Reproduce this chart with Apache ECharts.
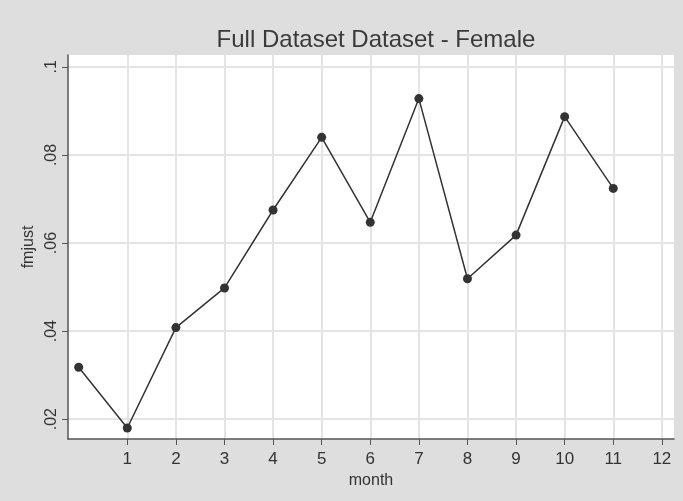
<!DOCTYPE html>
<html>
<head>
<meta charset="utf-8">
<script src="https://cdn.jsdelivr.net/npm/echarts@6/dist/echarts.min.js"></script>
<style>
  html, body { margin: 0; padding: 0; background: #dedede; }
  #main { width: 683px; height: 501px; }
</style>
</head>
<body>
<div id="main"></div>
<script>
var dom = document.getElementById("main");
var myChart = echarts.init(dom);

var months = [0, 1, 2, 3, 4, 5, 6, 7, 8, 9, 10, 11];
var fmjust = [0.0318, 0.0180, 0.0408, 0.0498, 0.0675, 0.0840, 0.0647, 0.0928, 0.0519, 0.0618, 0.0887, 0.0724];
var xTicks = [1, 2, 3, 4, 5, 6, 7, 8, 9, 10, 11, 12];
var yTicks = [0.02, 0.04, 0.06, 0.08, 0.1];

var points = months.map(function (m, i) { return [m, fmjust[i]]; });

var font = 'Liberation Sans, Arial, sans-serif';

option = {
    backgroundColor: '#dedede',
    animation: false,
    title: {
        text: 'Full Dataset Dataset - Female',
        left: 371,
        textAlign: 'center',
        top: 23,
        textStyle: { fontFamily: font, fontSize: 24, fontWeight: 'normal', color: '#3a3a3a' }
    },
    grid: {
        left: 68, right: 9, top: 55, bottom: 62,
        show: true, backgroundColor: '#ffffff', borderWidth: 0
    },
    xAxis: {
        type: 'value',
        min: -0.22,
        max: 12.25,
        name: 'month',
        nameLocation: 'middle',
        nameGap: 20,
        nameTextStyle: { fontFamily: font, fontSize: 16, color: '#333' },
        axisLine: { show: true, onZero: false, lineStyle: { color: '#555', width: 1.5 } },
        axisTick: { show: true, length: 6, customValues: xTicks, lineStyle: { color: '#555' } },
        axisLabel: { customValues: xTicks, margin: 12, fontFamily: font, fontSize: 17, color: '#333' },
        splitLine: { show: true, lineStyle: { color: '#e4e4e4', width: 2 } }
    },
    yAxis: {
        type: 'value',
        min: 0.0155,
        max: 0.1027,
        name: 'fmjust',
        nameLocation: 'middle',
        nameRotate: 90,
        nameGap: 11,
        nameTextStyle: { fontFamily: font, fontSize: 16, color: '#333' },
        axisLine: { show: true, onZero: false, lineStyle: { color: '#555', width: 1.5 } },
        axisTick: { show: true, length: 6, customValues: yTicks, lineStyle: { color: '#555' } },
        axisLabel: {
            customValues: yTicks,
            rotate: 90,
            margin: 8,
            fontFamily: font, fontSize: 16, color: '#333',
            formatter: function (v) { return String(+v.toFixed(2)).replace(/^0/, ''); }
        },
        splitLine: { show: true, lineStyle: { color: '#e4e4e4', width: 2 } }
    },
    series: [{
        type: 'line',
        data: points,
        symbol: 'circle',
        symbolSize: 9,
        itemStyle: { color: '#333' },
        lineStyle: { color: '#333', width: 1.5 }
    }]
};

if (option && typeof option === "object") {
    myChart.setOption(option, true);
}
</script>
</body>
</html>
